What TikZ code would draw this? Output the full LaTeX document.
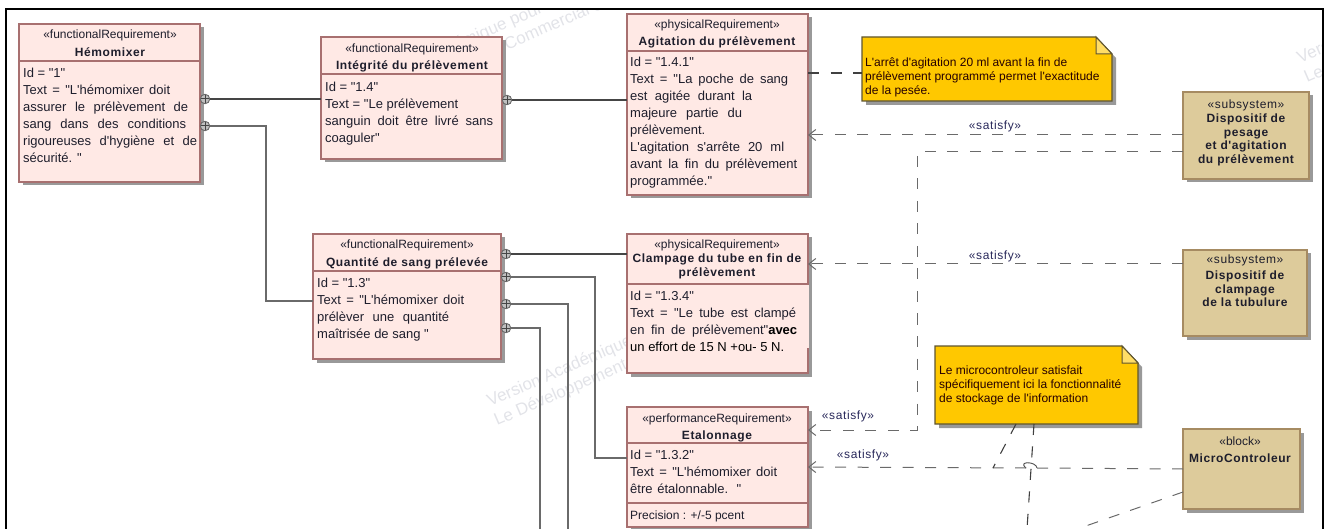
\documentclass[tikz,border=0pt]{standalone}
\usepackage{fontspec}
\defaultfontfeatures[\rmfamily]{}
\setmainfont{Liberation Sans}
\newfontfamily\spacedfont[LetterSpace=5]{Liberation Sans}
\usetikzlibrary{arrows.meta,shadows,calc}
\definecolor{reqfill}{HTML}{FFE9E5}
\definecolor{reqline}{HTML}{A87070}
\definecolor{sysfill}{HTML}{DDCB9B}
\definecolor{sysline}{HTML}{A68B62}
\definecolor{notefill}{HTML}{FFC800}
\definecolor{noteline}{HTML}{5F5530}
\definecolor{notefold}{HTML}{FFDD66}
\definecolor{inkc}{HTML}{1E1E2C}
\definecolor{linkc}{HTML}{6A6A6A}
\definecolor{thickc}{HTML}{454545}
\definecolor{marka}{HTML}{E2E3E8}
\definecolor{satc}{HTML}{28285A}
\newcommand{\jl}[2]{\makebox[#1pt][s]{#2}}
\tikzset{
  x=1pt,y=-1pt,
  boxbase/.style={anchor=north west,inner sep=0,outer sep=0,line width=1.2pt,
    general shadow={shadow xshift=3.5pt,shadow yshift=-3.5pt,fill=black!40}},
  reqbox/.style={boxbase,draw=reqline,fill=reqfill},
  sysbox/.style={boxbase,draw=sysline,fill=sysfill},
  notearea/.style={anchor=north west,inner sep=0,outer sep=0},
  stereo/.style={anchor=base,inner sep=0,font=\fontsize{12}{14}\selectfont,text=inkc},
  titlet/.style={anchor=base,inner sep=0,align=center,font=\spacedfont\bfseries\fontsize{12}{13.5}\selectfont,text=inkc},
  bodyt/.style={anchor=north west,inner sep=0,align=left,font=\fontsize{13}{17}\selectfont,text=inkc},
  smallt/.style={anchor=base west,inner sep=0,font=\fontsize{12}{14}\selectfont,text=inkc},
  notet/.style={anchor=north west,inner sep=0,align=left,font=\fontsize{12}{14}\selectfont,text=black!85!red},
  satt/.style={anchor=base,inner sep=0,font=\spacedfont\fontsize{12}{14}\selectfont,text=satc},
  marktext/.style={anchor=base west,inner sep=0,rotate=23.5,text=marka,font=\fontsize{17}{20}\selectfont},
  divl/.style={line width=1.1pt,draw=reqline},
  port/.style={circle,inner sep=0,outer sep=0,minimum size=9.5pt,draw=thickc!80,line width=.9pt,fill=black!25,
    path picture={\draw[thickc,line width=1pt] (path picture bounding box.north)--(path picture bounding box.south)
      (path picture bounding box.west)--(path picture bounding box.east);}},
  heavylink/.style={draw=thickc,line width=2pt},
  lightlink/.style={draw=linkc,line width=1.3pt},
  satplain/.style={draw=linkc,line width=1pt,dash pattern=on 11pt off 11.5pt},
  satlink/.style={satplain,-{Straight Barb[length=7pt,width=11pt]}},
  notelink/.style={draw=black!75,line width=1.1pt,dash pattern=on 11pt off 11.5pt},
  noteshape/.style={fill=notefill,draw=noteline,line width=1.2pt,line join=miter},
  noteshadow/.style={fill=black!40},
  foldshape/.style={fill=notefold,draw=noteline,line width=1pt},
}
\begin{document}
\begin{tikzpicture}
\path[use as bounding box] (0,0) rectangle (1325,529);
% watermarks
\begin{scope}
\clip (6,9) rectangle (1323,529);
\foreach \i/\dx/\dy in {a/0/0,b/-125/-317,c/810/-343}{
  \node[marktext] (wm1\i) at (490+\dx,407+\dy) {Version Académique pour l'enseignement};
  \node[marktext] (wm2\i) at (497+\dx,426+\dy) {Le Développement Commercial est interdit};
}
\end{scope}
% frame
\coordinate (fa) at (6,529);
\coordinate (fb) at (6,9);
\coordinate (fc) at (1323,9);
\coordinate (fd) at (1323,529);
\draw[black,line width=1.6pt] (fa)--(fb)--(fc)--(fd);
% requirement boxes
\node[reqbox,minimum width=181pt,minimum height=158pt] (hem) at (19,24) {};
\node[reqbox,minimum width=181pt,minimum height=122pt] (integ) at (321,37) {};
\node[reqbox,minimum width=188pt,minimum height=125pt] (quant) at (313,234) {};
\node[reqbox,minimum width=181pt,minimum height=181pt] (agit) at (627,14) {};
\node[reqbox,minimum width=181pt,minimum height=139pt] (clamp) at (627,234) {};
\node[reqbox,minimum width=181pt,minimum height=120pt] (etal) at (627,407) {};
\fill[reqfill] (806.8,285) rectangle (808.7,348);
\draw[divl] (hem.west |- 0,61) -- (hem.east |- 0,61);
\draw[divl] (integ.west |- 0,74) -- (integ.east |- 0,74);
\draw[divl] (quant.west |- 0,271) -- (quant.east |- 0,271);
\draw[divl] (agit.west |- 0,51) -- (agit.east |- 0,51);
\draw[divl] (clamp.west |- 0,284) -- (clamp.east |- 0,284);
\draw[divl] (etal.west |- 0,443) -- (etal.east |- 0,443);
\draw[divl] (etal.west |- 0,503) -- (etal.east |- 0,503);
% subsystem blocks
\node[sysbox,minimum width=126pt,minimum height=87pt] (sysa) at (1183,92) {};
\node[sysbox,minimum width=124pt,minimum height=86pt] (sysb) at (1183,250) {};
\node[sysbox,minimum width=117pt,minimum height=80pt] (micro) at (1183,429) {};
% notes
\node[notearea,minimum width=250pt,minimum height=64pt] (notea) at (862,37) {};
\node[notearea,minimum width=203pt,minimum height=78pt] (noteb) at (935,346) {};
\fill[noteshadow] ($(notea.north east)+(-16+4,4)$) -- ($(notea.north east)+(4,17+4)$) -- ($(notea.south east)+(4,4)$) -- ($(notea.south west)+(4,4)$) -- ($(notea.south west)+(4,0)$) -- (notea.south east) -- cycle;
\fill[noteshadow] ($(noteb.north east)+(-16+4,4)$) -- ($(noteb.north east)+(4,17+4)$) -- ($(noteb.south east)+(4,4)$) -- ($(noteb.south west)+(4,4)$) -- ($(noteb.south west)+(4,0)$) -- (noteb.south east) -- cycle;
\draw[noteshape] (notea.north west) -- ($(notea.north east)+(-16,0)$) -- ($(notea.north east)+(0,17)$) -- (notea.south east) -- (notea.south west) -- cycle;
\draw[noteshape] (noteb.north west) -- ($(noteb.north east)+(-16,0)$) -- ($(noteb.north east)+(0,17)$) -- (noteb.south east) -- (noteb.south west) -- cycle;
\draw[foldshape] ($(notea.north east)+(-16,0)$) -- ($(notea.north east)+(0,17)$) -- ($(notea.north east)+(-16,17)$) -- cycle;
\draw[foldshape] ($(noteb.north east)+(-16,0)$) -- ($(noteb.north east)+(0,17)$) -- ($(noteb.north east)+(-16,17)$) -- cycle;
% containment connectors
\coordinate (qent) at (313,301);
\coordinate (eent) at (627,458);
\coordinate (downa) at (568,529);
\coordinate (downb) at (540,529);
\node[port] (ph1) at (205,99) {};
\node[port] (ph2) at (205,126) {};
\node[port] (pi1) at (507,100) {};
\node[port] (pq1) at (506,254) {};
\node[port] (pq2) at (506,277) {};
\node[port] (pq3) at (506,304) {};
\node[port] (pq4) at (506,328) {};
\draw[heavylink] (ph1.east) -- (ph1.east -| integ.west);
\draw[heavylink] (pi1.east) -- (pi1.east -| agit.west);
\draw[heavylink] (pq1.east) -- (pq1.east -| clamp.west);
\draw[lightlink] (ph2.east) -- (266,126) -- (266,301) -- (qent);
\draw[lightlink] (pq2.east) -- (595,277) -- (595,458) -- (eent);
\draw[lightlink] (pq3.east) -- (568,304) -- (downa);
\draw[lightlink] (pq4.east) -- (540,328) -- (downb);
% satisfy connectors
\draw[notelink] (agit.east |- 0,73) -- (notea.west |- 0,73);
\draw[satlink] (sysa.west |- 0,135) -- (agit.east |- 0,135);
\draw[satlink] (sysa.west |- 0,152) -- (917,152) -- (917,430) -- (etal.east |- 0,430);
\draw[satlink] (sysb.west |- 0,264) -- (clamp.east |- 0,264);
\coordinate (jumpr) at (1037,468);
\coordinate (jumpl) at (1026,468);
\draw[satplain] (micro.west |- 0,469) -- (jumpr);
\draw[draw=black!70,line width=.9pt] (jumpr) .. controls +(-1,-7) and +(-9,-7) .. (jumpl);
\draw[satlink] (jumpl) -- (etal.east |- 0,467);
\coordinate (joint) at (993,468);
\coordinate (lowa) at (1027,529);
\coordinate (lowb) at (1080,528);
\draw[notelink] (noteb.south west -| 1016,0) -- (joint);
\draw[notelink] (noteb.south west -| 1034,0) -- (lowa);
\draw[satplain] (micro.west |- 0,492) -- (lowb);
\node[satt] (sa) at (995,130) {«satisfy»};
\node[satt] (sb) at (995,260) {«satisfy»};
\node[satt] (sc) at (848,419) {«satisfy»};
\node[satt] (sd) at (863,458) {«satisfy»};
% headers
\node[stereo] (hems) at (110,39) {«functionalRequirement»};
\node[titlet] (hemt) at (110,56.5) {Hémomixer};
\node[stereo] (ints) at (412,53) {«functionalRequirement»};
\node[titlet] (intt) at (412,69.5) {Intégrité du prélèvement};
\node[stereo] (quas) at (407,249) {«functionalRequirement»};
\node[titlet] (quat) at (407,266.5) {Quantité de sang prélevée};
\node[stereo] (agis) at (717,29) {«physicalRequirement»};
\node[titlet] (agit2) at (717,45.5) {Agitation du prélèvement};
\node[stereo] (clas) at (717,249) {«physicalRequirement»};
\node[titlet,anchor=north] (clat) at (717,253) {\strut Clampage du tube en fin de\\prélèvement};
\node[stereo] (etas) at (717,422) {«performanceRequirement»};
\node[titlet] (etat) at (717,439.5) {Etalonnage};
% bodies
\node[bodyt] (hemb) at (23,65) {\strut Id = "1"\\\jl{147}{Text = "L'hémomixer doit}\\\jl{165}{assurer le prélèvement de}\\\jl{163}{sang dans des conditions}\\\jl{174}{rigoureuses d'hygiène et de}\\sécurité. "};
\node[bodyt] (intb) at (325,79) {\strut Id = "1.4"\\\jl{133}{Text = "Le prélèvement}\\\jl{168}{sanguin doit être livré sans}\\coaguler"};
\node[bodyt] (quab) at (317,275) {\strut Id = "1.3"\\\jl{147}{Text = "L'hémomixer doit}\\\jl{132}{prélèver une quantité}\\maîtrisée de sang "};
\node[bodyt] (agib) at (630,54) {\strut Id = "1.4.1"\\\jl{158}{Text = "La poche de sang}\\\jl{122}{est agitée durant la}\\\jl{112}{majeure partie du}\\prélèvement.\\\jl{154}{L'agitation s'arrête 20 ml}\\\jl{167}{avant la fin du prélèvement}\\programmée."};
\node[bodyt] (clab) at (630,288) {\strut Id = "1.3.4"\\\jl{166}{Text = "Le tube est clampé}\\\jl{167}{en fin de prélèvement"\textcolor{black}{\textbf{avec}}}\\\textcolor{black}{un effort de 15 N +ou- 5 N.}};
\node[bodyt] (etab) at (630,447) {\strut Id = "1.3.2"\\\jl{147}{Text = "L'hémomixer doit}\\\jl{111}{être étalonnable. "}};
\node[smallt] (etap) at (630,519) {Precision : +/-5 pcent};
% blocks text
\node[stereo,font=\spacedfont\fontsize{12}{14}\selectfont] (sysas) at (1246,109) {«subsystem»};
\node[titlet,anchor=north] (sysat) at (1246,113) {\strut Dispositif de\\pesage\\et d'agitation\\du prélèvement};
\node[stereo,font=\spacedfont\fontsize{12}{14}\selectfont] (sysbs) at (1245,264) {«subsystem»};
\node[titlet,anchor=north] (sysbt) at (1245,270) {\strut Dispositif de\\clampage\\de la tubulure};
\node[stereo] (mics) at (1240,445) {«block»};
\node[titlet] (mict) at (1240,462.5) {MicroControleur};
% note text
\node[notet] (noteat) at (865,58) {L'arrêt d'agitation 20 ml avant la fin de\\prélèvement programmé permet l'exactitude\\de la pesée.};
\node[notet] (notebt) at (939,366) {Le microcontroleur satisfait\\spécifiquement ici la fonctionnalité\\de stockage de l'information};
\end{tikzpicture}
\end{document}
